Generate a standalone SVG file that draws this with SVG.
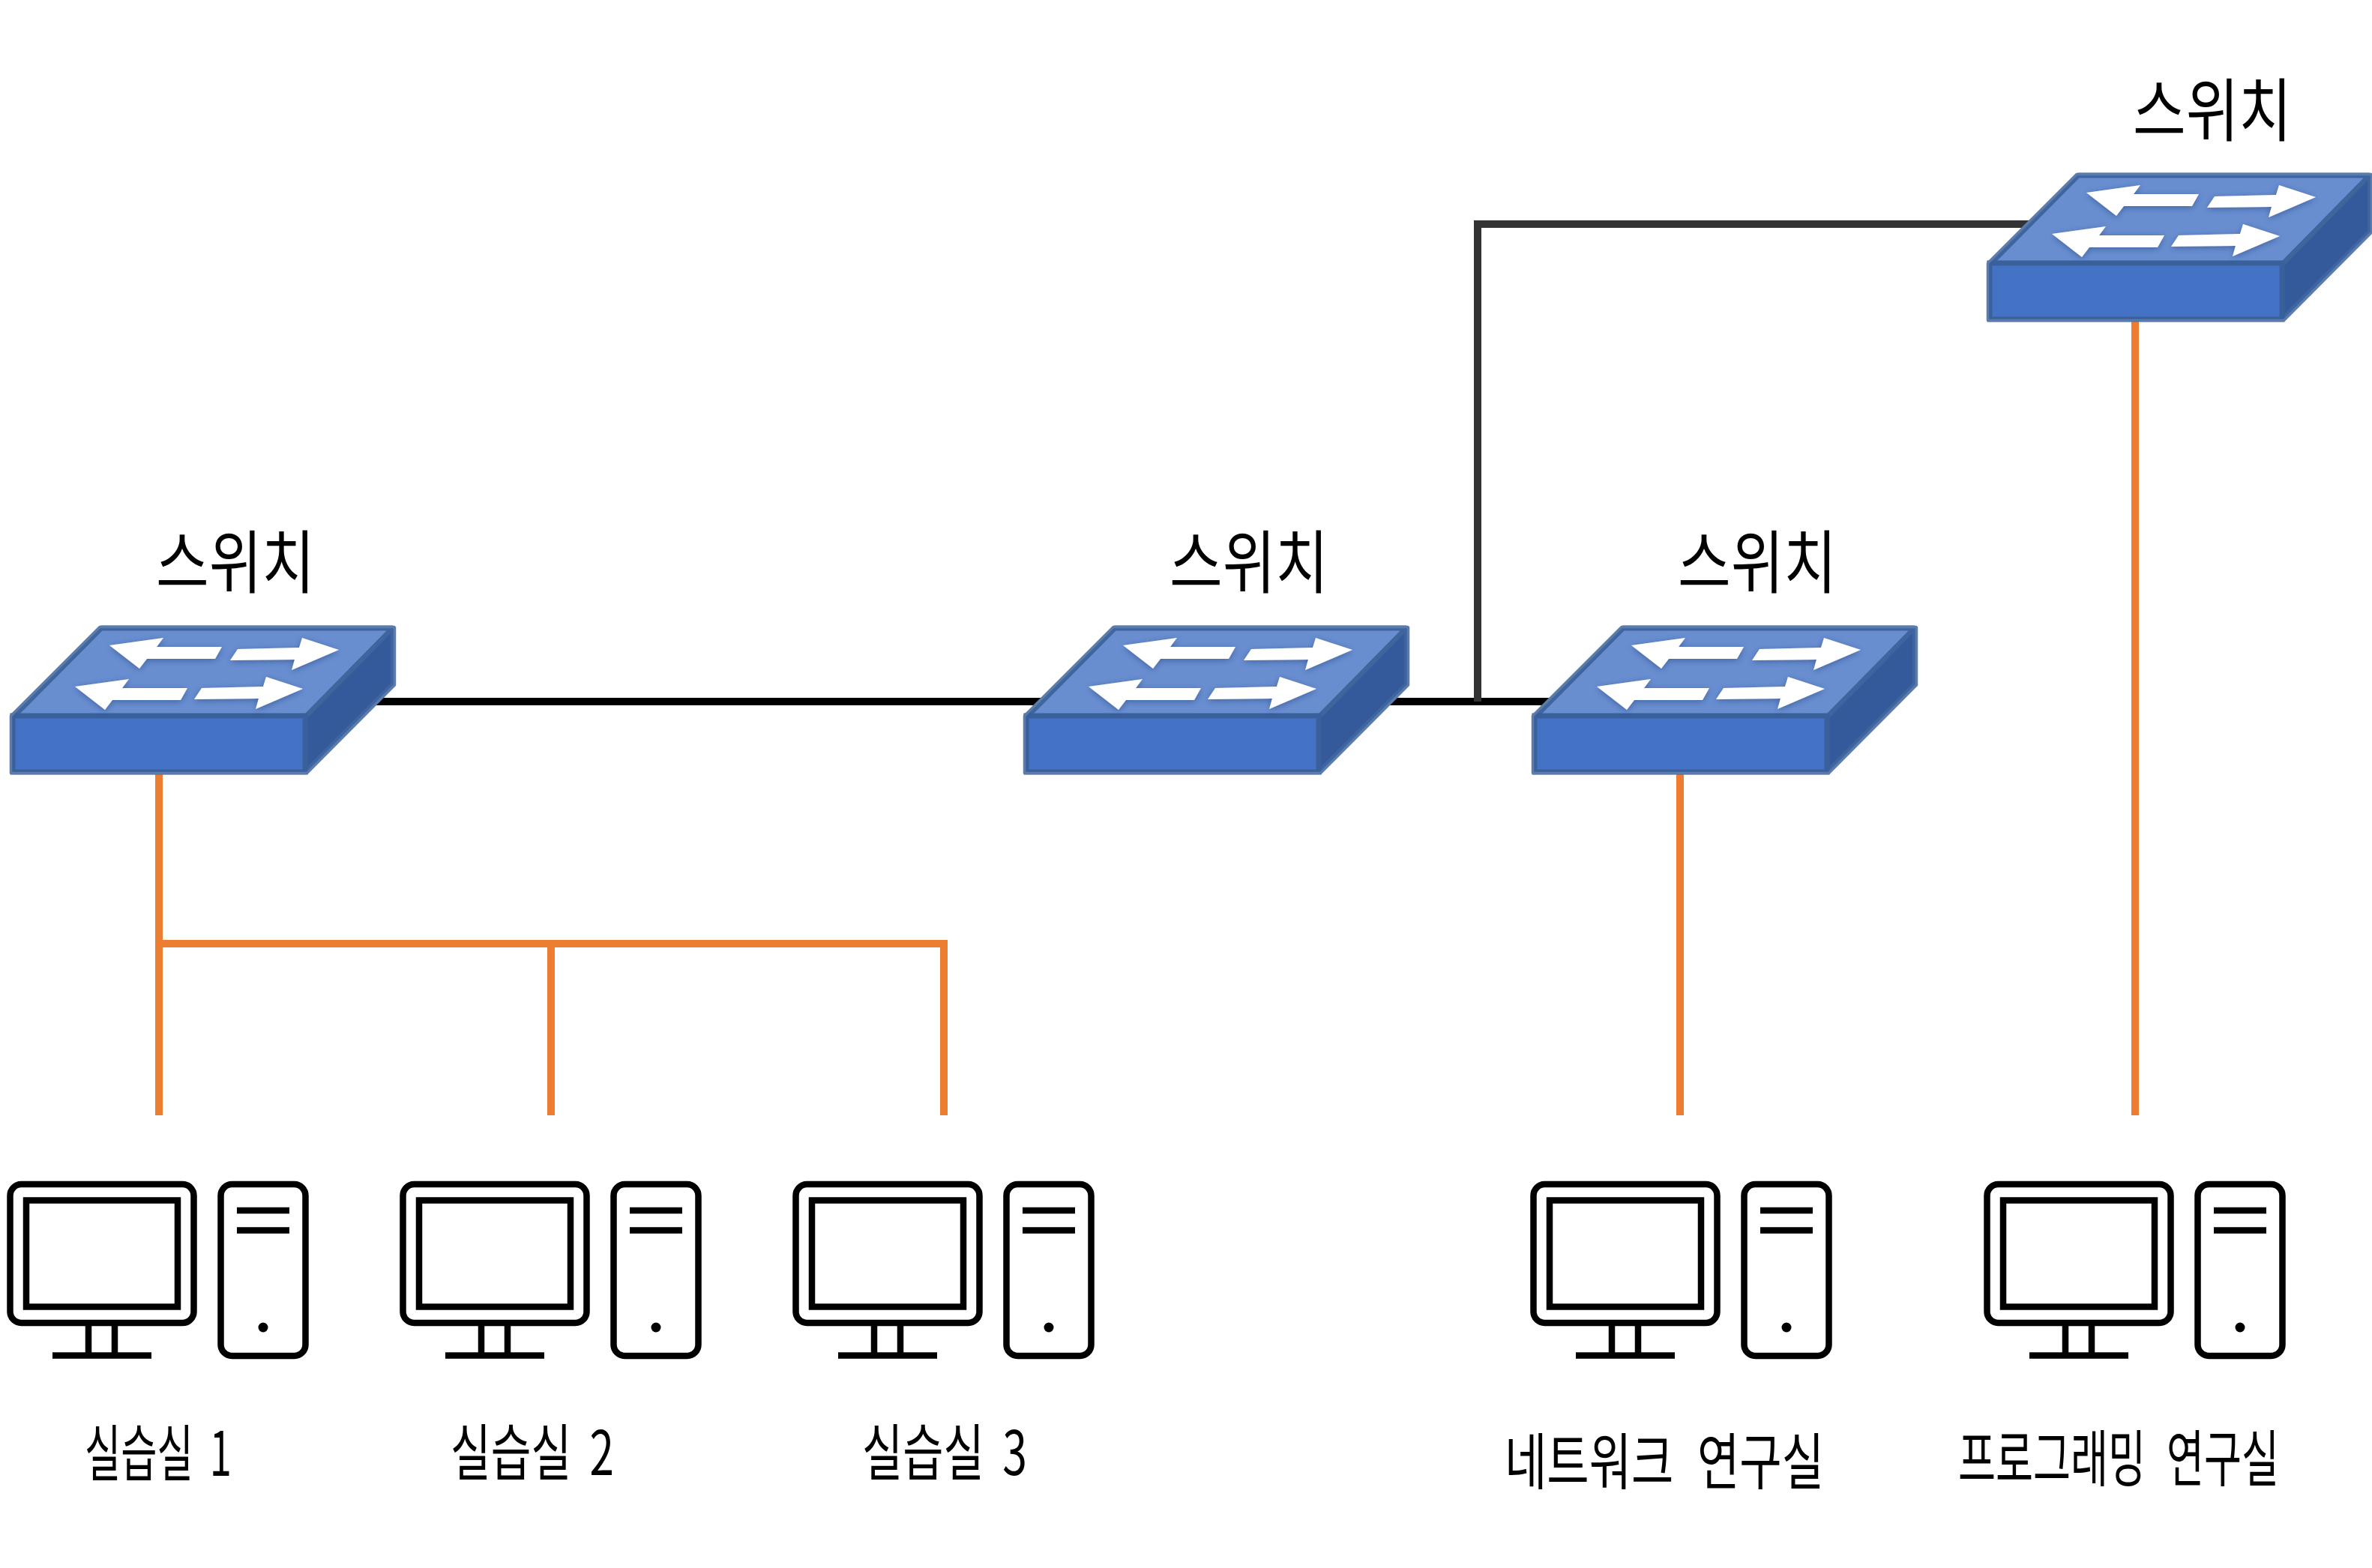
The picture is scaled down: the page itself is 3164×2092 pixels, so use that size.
<svg xmlns="http://www.w3.org/2000/svg" width="3164" height="2092" viewBox="0 0 3164 2092">
<style>
.l{font-family:"Noto Sans CJK KR","Noto Sans",sans-serif;fill:#000;font-weight:400}
.sw{font-size:92px}.pc{font-size:82px;word-spacing:16px}.rm{font-size:82px;word-spacing:24px}
.o{fill:none;stroke:#ed7d31;stroke-width:10}
.k{fill:none;stroke:#000;stroke-width:10}
.g{fill:none;stroke:#333;stroke-width:10}
.m{fill:none;stroke:#000;stroke-width:8.5}
</style>
<defs>
<filter id="s" x="-10%" y="-20%" width="120%" height="150%"><feDropShadow dx="0" dy="2" stdDeviation="4" flood-color="#2f528f" flood-opacity="0.7"/></filter>
<g id="switch">
<polygon points="17,957 135,838 524,838 407,957" fill="#698ed0" stroke="#3f659f" stroke-width="7" stroke-linejoin="bevel"/>
<polygon points="407,957 524,838 524,913 407,1030" fill="#355a9b" stroke="#3f659f" stroke-width="6" stroke-linejoin="bevel"/>
<rect x="17" y="955" width="390" height="75" fill="#4472c4" stroke="#3a609c" stroke-width="7"/>
<polygon points="14.500,955 133,836.500 526.500,836.500 526.500,914 409.500,1031.500 14.500,1031.500" fill="none" stroke="#5b7bad" stroke-width="3.500" stroke-linejoin="bevel"/>
<g fill="#fff" filter="url(#s)">
<polygon points="146,861 218,851 209,863 296,863 287,879 196,879 186,892"/>
<polygon points="307,881 317,866 399,864 403,851 452,867 389,894 393,880"/>
<polygon points="100,916 172,906 163,918 250,918 241,934 150,934 140,947"/>
<polygon points="259,933 269,918 351,916 355,903 404,919 341,946 345,932"/>
</g>
</g>
<g id="pc">
<rect x="13.500" y="1580" width="245" height="185" rx="15" class="m"/>
<rect x="35" y="1601.500" width="202" height="142" class="m"/>
<path d="M118 1769V1805M153 1769V1805M70 1808.500H202" class="m"/>
<rect x="294.500" y="1580" width="113" height="229" rx="15" class="m"/>
<path d="M316 1615H386M316 1641.500H386" class="m"/>
<circle cx="351" cy="1771" r="6.500" fill="#000"/>
</g>
</defs>
<rect width="3164" height="2092" fill="#fff"/>
<g id="connectors">
<path class="k" d="M480 936H1400M1840 936H2090"/>
<path class="g" d="M1971 936V299H2720"/>
<path class="o" d="M212 1030V1488M212 1259H1259V1488M735 1259V1488"/>
<path class="o" d="M2241 1030V1488"/>
<path class="o" d="M2848 420V1488"/>
</g>
<g id="switch1"><use href="#switch"/><text class="l sw" x="208" y="784" textLength="212" lengthAdjust="spacingAndGlyphs">스위치</text></g>
<g id="switch2"><use href="#switch" x="1352"/><text class="l sw" x="1560" y="784" textLength="212" lengthAdjust="spacingAndGlyphs">스위치</text></g>
<g id="switch3"><use href="#switch" x="2030"/><text class="l sw" x="2238" y="784" textLength="212" lengthAdjust="spacingAndGlyphs">스위치</text></g>
<g id="switch4"><use href="#switch" x="2637" y="-604"/><text class="l sw" x="2845" y="181" textLength="212" lengthAdjust="spacingAndGlyphs">스위치</text></g>
<g id="lab1"><use href="#pc"/><text class="l pc" x="113" y="1969" textLength="196" lengthAdjust="spacingAndGlyphs">실습실 1</text></g>
<g id="lab2"><use href="#pc" x="524"/><text class="l pc" x="601" y="1968" textLength="218" lengthAdjust="spacingAndGlyphs">실습실 2</text></g>
<g id="lab3"><use href="#pc" x="1048"/><text class="l pc" x="1150" y="1968" textLength="220" lengthAdjust="spacingAndGlyphs">실습실 3</text></g>
<g id="netlab"><use href="#pc" x="2032"/><text class="l rm" x="2007" y="1980" textLength="426" lengthAdjust="spacingAndGlyphs">네트워크 연구실</text></g>
<g id="proglab"><use href="#pc" x="2637"/><text class="l rm" x="2612" y="1976" textLength="428" lengthAdjust="spacingAndGlyphs">프로그래밍 연구실</text></g>
</svg>
